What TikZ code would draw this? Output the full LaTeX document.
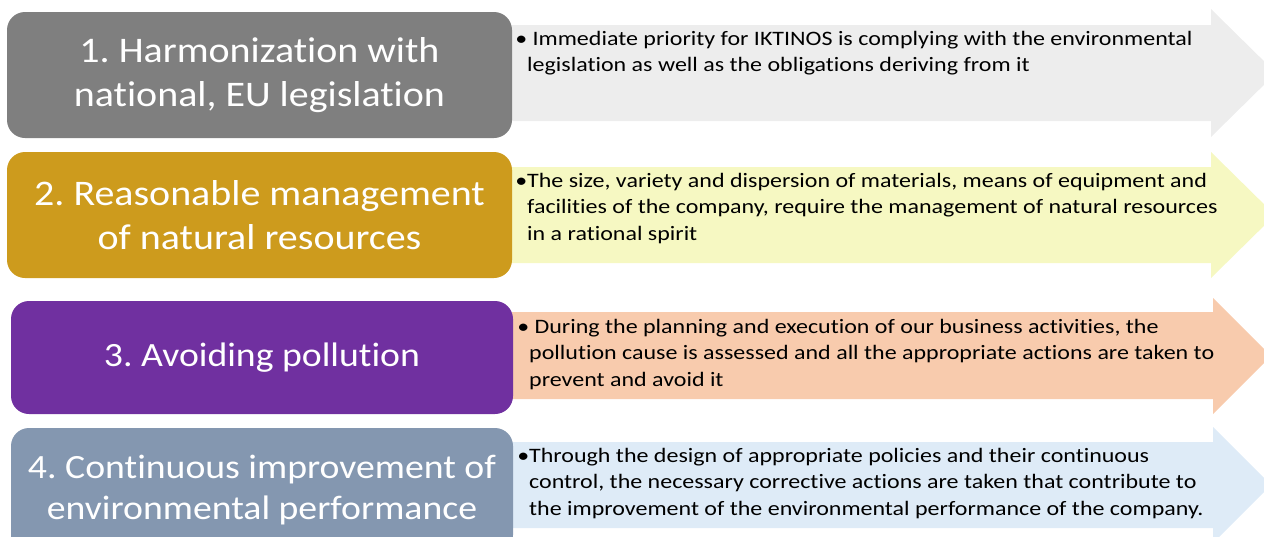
\documentclass[tikz,border=0pt]{standalone}
\usepackage{fontspec}
\setmainfont[Ligatures=NoCommon]{Carlito}
\newfontfamily\titlefont[Ligatures=NoCommon,FakeStretch=1.11]{Carlito}
\newfontfamily\bodyfont[Ligatures=NoCommon,FakeStretch=1.17]{Carlito}
\definecolor{boxgray}{HTML}{7F7F7F}
\definecolor{boxgold}{HTML}{CD9B1D}
\definecolor{boxpurple}{HTML}{7030A0}
\definecolor{boxblue}{HTML}{8497B0}
\definecolor{arrowgray}{HTML}{EDEDED}
\definecolor{arrowyellow}{HTML}{F6F8C2}
\definecolor{arrowpeach}{HTML}{F8CBAD}
\definecolor{arrowblue}{HTML}{DEEBF7}
\frenchspacing
\begin{document}
\begin{tikzpicture}
[x=1pt,y=-1pt,
  titledecorate/.style={shape=rectangle,rounded corners=18pt,inner sep=0pt,%
    text=white,align=center,font=\titlefont\fontsize{36}{44}\selectfont},
  smalltitle/.style={font=\titlefont\fontsize{34}{41}\selectfont},
  textdecorate/.style={anchor=north west,inner sep=0pt,align=left,%
    font=\bodyfont\fontsize{20.5}{26.7}\selectfont}]
\useasboundingbox (0,0) rectangle (1264,536);
\clip (0,0) rectangle (1264,536);
% arrows behind the boxes
\fill[arrowgray] (512,25) -- (1211,25) -- (1211,9) -- (1276,73)
  -- (1211,137) -- (1211,121) -- (512,121) -- cycle;
\fill[arrowyellow] (512,167) -- (1211,167) -- (1211,152) -- (1275,215)
  -- (1211,278) -- (1211,263) -- (512,263) -- cycle;
\fill[arrowpeach] (512,312) -- (1213,312) -- (1213,298) -- (1271,356)
  -- (1213,414) -- (1213,399) -- (512,399) -- cycle;
\fill[arrowblue] (512,442) -- (1213,442) -- (1213,427) -- (1271,485)
  -- (1213,543) -- (1213,528) -- (512,528) -- cycle;
% boxes
\node (t1) at (259.5,75) [titledecorate,fill=boxgray,minimum width=505pt,minimum height=126pt]
  {1. Harmonization with\\national, EU legislation};
\node (t2) at (259.5,215) [titledecorate,fill=boxgold,minimum width=505pt,minimum height=126pt]
  {2. Reasonable management\\of natural resources};
\node (t3) at (262,357.5) [titledecorate,smalltitle,fill=boxpurple,minimum width=502pt,minimum height=113pt]
  {3. Avoiding pollution};
\node (t4) at (262,490.5) [titledecorate,smalltitle,fill=boxblue,minimum width=502pt,minimum height=125pt]
  {\raisebox{4pt}{4. Continuous improvement of}\\\raisebox{4pt}{environmental performance}};
% texts in the arrows
\node (d1) at (527,29) [textdecorate]
  {\rule{0pt}{16pt}\llap{\textbullet}\ Immediate priority for IKTINOS is complying with the environmental\\
   legislation as well as the obligations deriving from it};
\node (d2) at (527,171) [textdecorate]
  {\rule{0pt}{16pt}\llap{\textbullet}The size, variety and dispersion of materials, means of equipment and\\
   facilities of the company, require the management of natural resources\\
   in a rational spirit};
\node (d3) at (529,317) [textdecorate]
  {\rule{0pt}{16pt}\llap{\textbullet}\ During the planning and execution of our business activities, the\\
   pollution cause is assessed and all the appropriate actions are taken to\\
   prevent and avoid it};
\node (d4) at (529,446) [textdecorate]
  {\rule{0pt}{16pt}\llap{\textbullet}Through the design of appropriate policies and their continuous\\
   control, the necessary corrective actions are taken that contribute to\\
   the improvement of the environmental performance of the company.};
\end{tikzpicture}
\end{document}
